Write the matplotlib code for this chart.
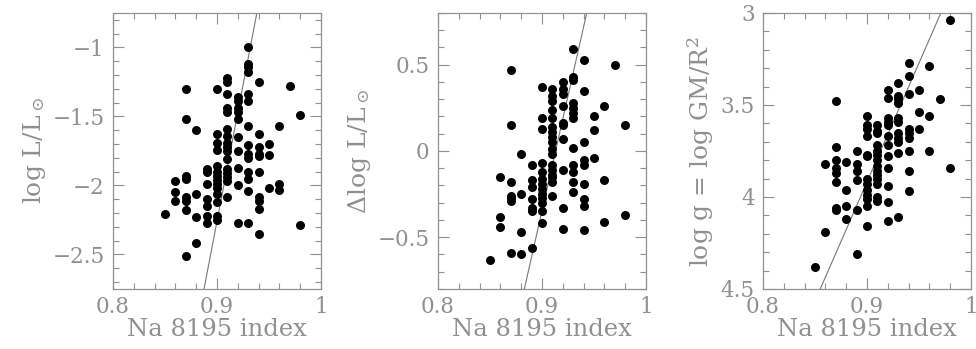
import matplotlib
matplotlib.use("Agg")
import matplotlib.pyplot as plt
from matplotlib.ticker import MultipleLocator, FuncFormatter

# Na 8195 index (same grid for every panel, read per panel)
x_lum = ([0.85] + [0.86] * 3 + [0.87] * 8 + [0.88] * 4 + [0.89] * 7 + [0.90] * 14
         + [0.91] * 16 + [0.92] * 10 + [0.93] * 14 + [0.94] * 10 + [0.95] * 3
         + [0.96] * 3 + [0.97] + [0.98] * 2)
log_lum = [-2.21,
           -1.97, -2.05, -2.11,
           -1.30, -1.52, -1.93, -1.95, -2.08, -2.11, -2.18, -2.51,
           -1.60, -2.06, -2.23, -2.42,
           -1.88, -1.90, -1.99, -2.10, -2.15, -2.22, -2.27,
           -1.30, -1.63, -1.69, -1.74, -1.86, -1.90, -1.93, -1.96, -1.99, -2.02,
           -2.06, -2.12, -2.22, -2.25,
           -1.22, -1.25, -1.34, -1.44, -1.47, -1.59, -1.64, -1.69, -1.72, -1.75,
           -1.81, -1.88, -1.91, -1.94, -1.97, -2.08,
           -1.36, -1.39, -1.44, -1.47, -1.52, -1.65, -1.75, -1.87, -2.00, -2.27,
           -1.00, -1.12, -1.14, -1.18, -1.34, -1.39, -1.57, -1.71, -1.77, -1.80,
           -1.90, -1.95, -2.04, -2.27,
           -1.25, -1.63, -1.72, -1.77, -1.79, -1.90, -2.08, -2.11, -2.17, -2.35,
           -1.70, -1.78, -2.02,
           -1.57, -1.99, -2.03,
           -1.28,
           -1.49, -2.29]

x_dlum = ([0.85] + [0.86] * 3 + [0.87] * 7 + [0.88] * 4 + [0.89] * 7 + [0.90] * 13
          + [0.91] * 17 + [0.92] * 10 + [0.93] * 12 + [0.94] * 9 + [0.95] * 3
          + [0.96] * 3 + [0.97] + [0.98] * 2)
dlog_lum = [-0.63,
            -0.15, -0.38, -0.44,
            0.47, 0.15, -0.18, -0.26, -0.27, -0.29, -0.59,
            -0.02, -0.25, -0.47, -0.60,
            -0.08, -0.17, -0.21, -0.28, -0.33, -0.35, -0.56,
            0.37, 0.19, 0.13, -0.07, -0.12, -0.16, -0.19, -0.22, -0.25, -0.27,
            -0.30, -0.35, -0.42,
            0.36, 0.32, 0.29, 0.24, 0.19, 0.14, 0.11, 0.08, 0.05, 0.01, -0.02,
            -0.08, -0.11, -0.14, -0.15, -0.18, -0.26,
            0.40, 0.36, 0.33, 0.26, 0.16, 0.15, 0.07, -0.11, -0.33, -0.45,
            0.59, 0.43, 0.41, 0.28, 0.25, 0.22, 0.19, 0.02, -0.08, -0.12, -0.18,
            -0.24,
            0.53, 0.35, 0.05, -0.05, -0.08, -0.19, -0.28, -0.32, -0.46,
            0.20, 0.12, -0.04,
            0.26, -0.17, -0.41,
            0.50,
            0.15, -0.37]

x_grav = ([0.85] + [0.86] * 2 + [0.87] * 8 + [0.88] * 4 + [0.89] * 6 + [0.90] * 13
          + [0.91] * 14 + [0.92] * 12 + [0.93] * 11 + [0.94] * 9 + [0.95] * 3
          + [0.96] * 3 + [0.97] + [0.98] * 2)
log_g = [4.38,
         3.82, 4.19,
         3.48, 3.73, 3.80, 3.84, 3.87, 3.92, 4.06, 4.07,
         3.81, 3.96, 4.05, 4.12,
         3.75, 3.82, 3.86, 3.91, 4.07, 4.31,
         3.56, 3.61, 3.63, 3.67, 3.77, 3.78, 3.90, 3.93, 3.96, 3.99, 4.01, 4.05,
         4.16,
         3.61, 3.64, 3.65, 3.72, 3.75, 3.77, 3.80, 3.83, 3.86, 3.88, 3.90, 3.93,
         4.00, 4.02,
         3.42, 3.46, 3.57, 3.59, 3.61, 3.67, 3.72, 3.78, 3.84, 3.94, 4.03, 4.13,
         3.38, 3.45, 3.47, 3.49, 3.57, 3.59, 3.65, 3.68, 3.70, 3.76, 4.11,
         3.27, 3.34, 3.44, 3.63, 3.65, 3.68, 3.75, 3.86, 3.97,
         3.42, 3.54, 3.63,
         3.29, 3.56, 3.75,
         3.47,
         3.04, 3.84]

# fitted relations, given by two end points each
fit_lum_x, fit_lum_y = [0.8875, 0.9383], [-2.75, -0.75]
fit_dlum_x, fit_dlum_y = [0.883, 0.943], [-0.8, 0.8]
fit_grav_x, fit_grav_y = [0.855, 0.971], [4.5, 3.0]

GREY = "#909090"
plt.rcParams["mathtext.fontset"] = "dejavuserif"
plt.rcParams["font.family"] = "serif"
plt.rcParams["font.serif"] = ["DejaVu Serif"]


def fmt(v, pos):
    return f"{v:g}".replace("-", "\u2212")


panels = [
    (x_lum, log_lum, fit_lum_x, fit_lum_y, (-2.75, -0.75),
     r"log L/L$_\odot$"),
    (x_dlum, dlog_lum, fit_dlum_x, fit_dlum_y, (-0.8, 0.8),
     r"$\Delta$log L/L$_\odot$"),
    (x_grav, log_g, fit_grav_x, fit_grav_y, (4.5, 3.0),
     r"log g = log GM/R$^2$"),
]

fig = plt.figure(figsize=(9.76, 3.49), dpi=100)
lefts = [0.1158, 0.4488, 0.7818]
for left, (xs, ys, fx, fy, ylim, ylabel) in zip(lefts, panels):
    ax = fig.add_axes([left, 0.172, 0.2131, 0.7908])
    ax.scatter(xs, ys, s=42, color="black", zorder=3, linewidths=0)
    ax.plot(fx, fy, color="#777777", lw=0.8, zorder=2)
    ax.set_xlim(0.8, 1.0)
    ax.set_ylim(*ylim)
    ax.xaxis.set_major_locator(MultipleLocator(0.1))
    ax.xaxis.set_minor_locator(MultipleLocator(0.02))
    ax.yaxis.set_major_locator(MultipleLocator(0.5))
    ax.yaxis.set_minor_locator(MultipleLocator(0.1))
    ax.xaxis.set_major_formatter(FuncFormatter(fmt))
    ax.yaxis.set_major_formatter(FuncFormatter(fmt))
    ax.tick_params(which="both", direction="in", top=True, right=True,
                   color=GREY, labelcolor=GREY, labelsize=15.5, width=0.8)
    ax.tick_params(which="major", length=8)
    ax.tick_params(axis="x", which="major", pad=5)
    ax.tick_params(axis="y", which="major", pad=6)
    ax.tick_params(which="minor", length=4)
    for sp in ax.spines.values():
        sp.set_color(GREY)
        sp.set_linewidth(0.9)
    ax.set_xlabel("Na 8195 index", color=GREY, fontsize=17.5, labelpad=0)
    ax.set_ylabel(ylabel, color=GREY, fontsize=18, labelpad=3)

fig.savefig("out.png", dpi=100)
